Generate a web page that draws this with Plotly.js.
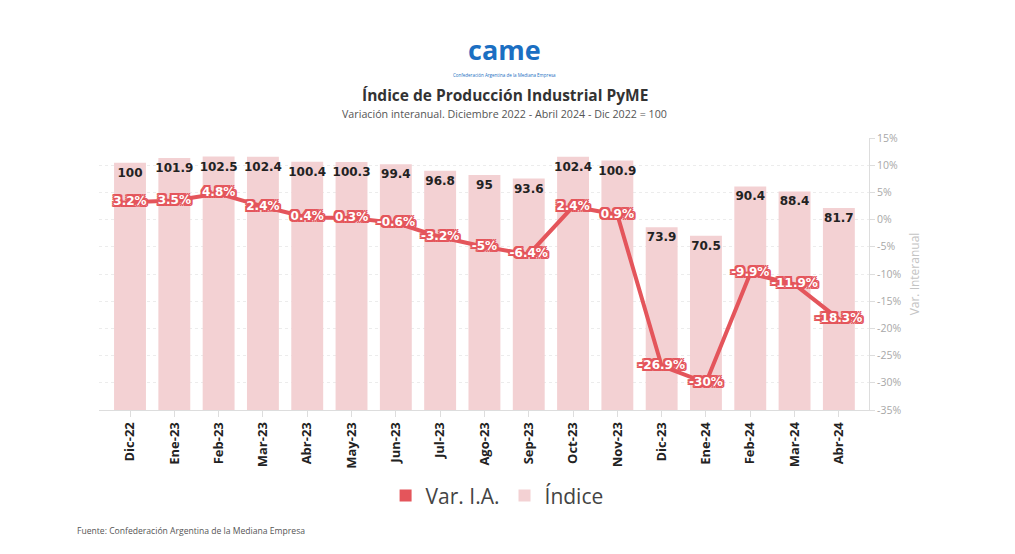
<!DOCTYPE html>
<html>
<head>
<meta charset="utf-8">
<script src="https://cdn.plot.ly/plotly-3.0.1.min.js"></script>
<style>html,body{margin:0;padding:0;background:#fff;}#chart{width:1015px;height:554px;}</style>
</head>
<body>
<div id="chart"></div>
<script>
const months = ["Dic-22","Ene-23","Feb-23","Mar-23","Abr-23","May-23","Jun-23","Jul-23","Ago-23","Sep-23","Oct-23","Nov-23","Dic-23","Ene-24","Feb-24","Mar-24","Abr-24"];
const indice = [100,101.9,102.5,102.4,100.4,100.3,99.4,96.8,95,93.6,102.4,100.9,73.9,70.5,90.4,88.4,81.7];
const varIA = [3.2,3.5,4.8,2.4,0.4,0.3,-0.6,-3.2,-5,-6.4,2.4,0.9,-26.9,-30,-9.9,-11.9,-18.3];
const rightTicks = [15,10,5,0,-5,-10,-15,-20,-25,-30,-35];

const RED = "#e4555b";
const PINK = "#f3d1d3";
const outline = "-2px -2px 0 "+RED+", 2px -2px 0 "+RED+", -2px 2px 0 "+RED+", 2px 2px 0 "+RED+", 0 -2px 0 "+RED+", 0 2px 0 "+RED+", -2px 0 0 "+RED+", 2px 0 0 "+RED;

const traces = [
  {
    type: "bar", x: months, y: indice, name: "Índice", showlegend: false,
    marker: {color: PINK}, width: 0.72,
    text: indice.map(v => String(v)), textposition: "inside", insidetextanchor: "end",
    textangle: 0, constraintext: "none",
    textfont: {family: "DejaVu Sans", size: 12, color: "#222", weight: 700},
    hoverinfo: "skip"
  },
  {
    type: "scatter", mode: "lines+text", x: months, y: varIA, yaxis: "y2", name: "Var. I.A.", showlegend: false,
    line: {color: RED, width: 4},
    text: varIA.map(v => v + "%"), textposition: "middle center",
    textfont: {family: "DejaVu Sans", size: 12, color: "#fff", weight: 700, shadow: outline},
    cliponaxis: false, hoverinfo: "skip"
  },
  {type: "scatter", mode: "markers", x: [null], y: [null], name: "Var. I.A.", yaxis: "y2",
   marker: {symbol: "square", size: 10, color: RED}},
  {type: "scatter", mode: "markers", x: [null], y: [null], name: "Índice", yaxis: "y2",
   marker: {symbol: "square", size: 10, color: PINK}}
];

const layout = {
  width: 1015, height: 554,
  margin: {l: 99, r: 146, t: 138, b: 144},
  paper_bgcolor: "#fff", plot_bgcolor: "#fff",
  font: {family: "Open Sans", color: "#444"},
  xaxis: {
    type: "category", range: [-0.7, 16.68],
    tickangle: -90, tickfont: {family: "Open Sans", size: 13, color: "#222", weight: 700},
    showline: true, linecolor: "#dddddd", linewidth: 1,
    ticks: "outside", ticklen: 6, tickcolor: "#dddddd",
    showgrid: false, fixedrange: true
  },
  yaxis: {range: [0, 110], visible: false, showgrid: false, fixedrange: true},
  yaxis2: {
    overlaying: "y", side: "right", range: [-35, 15],
    tickvals: rightTicks, ticktext: rightTicks.map(v => v + "%"),
    tickfont: {family: "Open Sans", size: 10.5, color: "#a8a8a8"},
    showline: true, linecolor: "#dddddd", linewidth: 1,
    ticks: "outside", ticklen: 5, tickcolor: "#dddddd",
    showgrid: true, gridcolor: "#ececec", griddash: "dot", gridwidth: 1,
    zeroline: false,
    title: {text: "Var. Interanual", font: {family: "Open Sans", size: 12, color: "#c4c4c4"}, standoff: 10},
    fixedrange: true
  },
  legend: {
    orientation: "h", x: 0.517, xanchor: "center", y: -0.316, yanchor: "middle",
    font: {family: "Open Sans", size: 21, color: "#444"},
    itemwidth: 30, itemsizing: "constant", tracegroupgap: 0, bgcolor: "rgba(0,0,0,0)"
  },
  annotations: [
    {xref: "paper", yref: "paper", x: 0.527, y: 1.325, text: "<b>came</b>", showarrow: false,
     font: {family: "Open Sans", size: 27, color: "#1b6fc2"}, xanchor: "center", yanchor: "middle"},
    {xref: "paper", yref: "paper", x: 0.527, y: 1.23, text: "Confederación Argentina de la Mediana Empresa", showarrow: false,
     font: {family: "Open Sans", size: 4.5, color: "#1b6fc2"}, xanchor: "center", yanchor: "middle"},
    {xref: "paper", yref: "paper", x: 0.527, y: 1.158, text: "<b>Índice de Producción Industrial PyME</b>", showarrow: false,
     font: {family: "Open Sans", size: 15.5, color: "#333"}, xanchor: "center", yanchor: "middle"},
    {xref: "paper", yref: "paper", x: 0.527, y: 1.088, text: "Variación interanual. Diciembre 2022 - Abril 2024 - Dic 2022 = 100", showarrow: false,
     font: {family: "Open Sans", size: 10.7, color: "#555"}, xanchor: "center", yanchor: "middle"},
    {xref: "paper", yref: "paper", x: -0.031, y: -0.445, text: "Fuente: Confederación Argentina de la Mediana Empresa", showarrow: false,
     font: {family: "Open Sans", size: 8.6, color: "#555"}, xanchor: "left", yanchor: "middle"}
  ],
  showlegend: true
};

Plotly.newPlot("chart", traces, layout, {displayModeBar: false, staticPlot: true});
</script>
</body>
</html>
